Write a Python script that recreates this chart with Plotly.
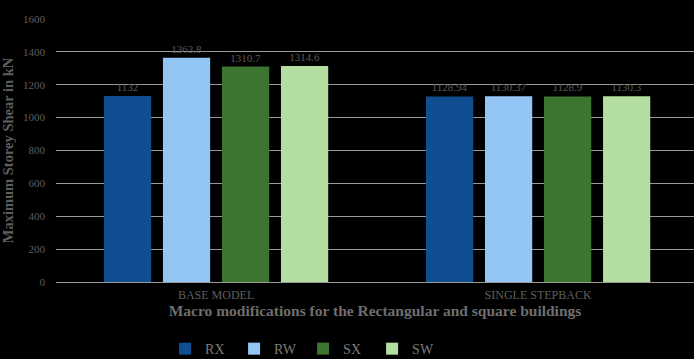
import plotly.graph_objects as go

categories = ["BASE MODEL", "SINGLE STEPBACK"]
rx = [1132, 1128.94]
rw = [1363.8, 1130.37]
sx = [1310.7, 1128.9]
sw = [1314.6, 1130.3]
rx_labels = ["1132", "1128.94"]
rw_labels = ["1363.8", "1130.37"]
sx_labels = ["1310.7", "1128.9"]
sw_labels = ["1314.6", "1130.3"]
series_names = ["RX", "RW", "SX", "SW"]
colors = ["#0F4F91", "#93C6F5", "#3B7530", "#B4DEA0"]

FONT = "Liberation Serif"
fig = go.Figure()
for name, vals, labs, col in zip(series_names, [rx, rw, sx, sw],
                                 [rx_labels, rw_labels, sx_labels, sw_labels], colors):
    fig.add_trace(go.Bar(
        x=categories, y=vals, name=name, marker_color=col,
        marker_line_width=0,
        text=labs, textposition="outside", cliponaxis=False,
        textfont=dict(family=FONT, size=11, color="#5a5a5a"),
    ))

fig.update_layout(
    width=694, height=359,
    paper_bgcolor="black", plot_bgcolor="black",
    margin=dict(l=56, r=0, t=19, b=77, autoexpand=False),
    barmode="group", bargap=0.267, bargroupgap=0.2,
    font=dict(family=FONT, color="#5f5f5f"),
    showlegend=True,
    legend=dict(orientation="h", x=0.171, xanchor="left", y=-0.255, yanchor="middle",
                font=dict(family=FONT, size=14, color="#7a7a7a"),
                itemwidth=30, entrywidth=24, entrywidthmode="pixels",
                traceorder="normal", bgcolor="rgba(0,0,0,0)"),
    xaxis=dict(
        title=dict(text="<b>Macro modifications for the Rectangular and square buildings</b>",
                   font=dict(family=FONT, size=15.5, color="#6e6e6e"), standoff=4),
        tickfont=dict(family=FONT, size=12, color="#5f5f5f"),
        showgrid=False, showline=False, ticks="", ticklabelstandoff=4,
        automargin=False, range=[-0.497, 1.484],
    ),
    yaxis=dict(
        title=dict(text="<b>Maximum Storey Shear in kN</b>",
                   font=dict(family=FONT, size=14.5, color="#5f5f5f"), standoff=6),
        range=[0, 1600], dtick=200,
        tickfont=dict(family=FONT, size=11, color="#5f5f5f"),
        showgrid=True, gridcolor="#999999", gridwidth=1,
        zeroline=True, zerolinecolor="#999999", zerolinewidth=1,
        ticks="", ticklabelstandoff=10, automargin=False,
    ),
)
fig.write_html("out.html", config={"displayModeBar": False},
               post_script="document.body.style.margin='0';document.body.style.background='black';")
